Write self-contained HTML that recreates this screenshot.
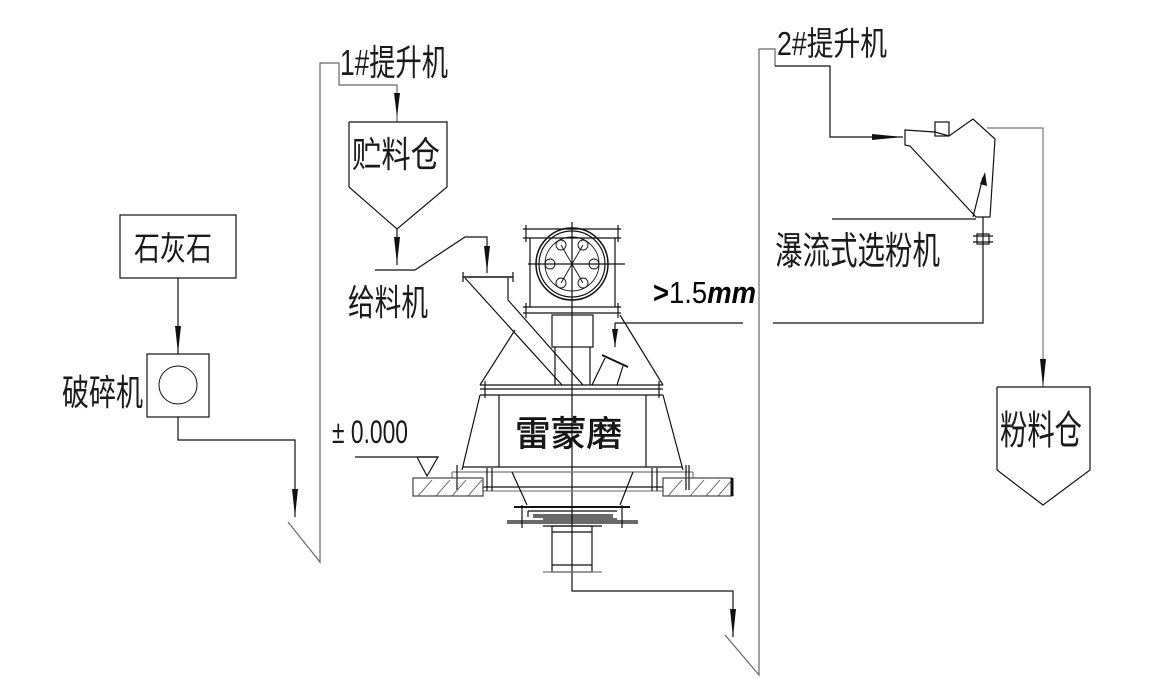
<!DOCTYPE html>
<html><head><meta charset="utf-8"><style>
html,body{margin:0;padding:0;background:#fff;}
svg{display:block;}
.t{font-family:"Liberation Sans","Noto Sans CJK SC",sans-serif;fill:#1a1a1a;}
</style></head><body>
<svg width="1154" height="679" viewBox="0 0 1154 679" xmlns="http://www.w3.org/2000/svg">
<rect width="1154" height="679" fill="#fff"/>
<g fill="none" stroke="#111" stroke-width="1.2">
<!-- limestone box -->
<rect x="120" y="215" width="116" height="63"/>
<line x1="178" y1="278" x2="178" y2="354"/>
<!-- crusher -->
<rect x="147" y="354" width="62" height="63"/>
<circle cx="178" cy="385" r="19" stroke-width="1"/>
<polyline points="178,417 178,440 295,440 295,517"/>
<!-- 1# elevator -->
<polyline stroke="#666" points="288,522 320,562 320,63 339,63 339,85 397,85 397,122"/>
<!-- storage bin -->
<polyline points="349,122 447,122 447,187 397,229 349,187 349,122"/>
<line x1="397" y1="229" x2="397" y2="265"/>
<!-- feeder -->
<polyline points="375,270 415,270 465,237 487,237 487,273"/>
<!-- chute -->
<line x1="463" y1="277" x2="513" y2="277" stroke-width="1.6"/>
<line x1="463" y1="272" x2="463" y2="282"/>
<line x1="513" y1="272" x2="513" y2="282"/>
<line x1="465" y1="278" x2="562" y2="385"/>
<polyline points="508,278 508,300 583,385"/>
<!-- head box -->
<line x1="523" y1="229" x2="621" y2="229"/>
<line x1="523" y1="238" x2="621" y2="238"/>
<line x1="526" y1="225" x2="526" y2="242"/>
<line x1="618" y1="225" x2="618" y2="242"/>
<line x1="530" y1="238" x2="530" y2="307"/>
<line x1="615" y1="238" x2="615" y2="307"/>
<line x1="523" y1="307" x2="621" y2="307"/>
<line x1="523" y1="313" x2="621" y2="313"/>
<line x1="526" y1="303" x2="526" y2="318"/>
<line x1="618" y1="303" x2="618" y2="318"/>
<circle cx="572" cy="264" r="36" stroke-width="1.5"/>
<circle cx="572" cy="264" r="33"/>
<circle cx="572" cy="264" r="27" stroke-width="0.9"/>
<g stroke-width="0.9">
<circle cx="594" cy="264" r="5"/><circle cx="550" cy="264" r="5"/>
<circle cx="583" cy="245" r="5"/><circle cx="561" cy="245" r="5"/>
<circle cx="583" cy="283" r="5"/><circle cx="561" cy="283" r="5"/>
<line x1="561" y1="245" x2="583" y2="283"/>
<line x1="583" y1="245" x2="561" y2="283"/>
</g>
<line x1="528" y1="264" x2="625" y2="264"/>
<!-- center line -->
<polyline points="572,222 572,591 733,591 733,637"/>
<!-- shaft -->
<rect x="552" y="315" width="41" height="32"/>
<line x1="555" y1="347" x2="555" y2="385"/>
<line x1="590" y1="347" x2="590" y2="385"/>
<!-- upper cone -->
<line x1="515" y1="330" x2="480" y2="385"/>
<line x1="620" y1="315" x2="663" y2="385"/>
<!-- small pipe right -->
<line x1="602" y1="355" x2="628" y2="367" stroke-width="1.8"/>
<line x1="605" y1="358" x2="592" y2="385"/>
<line x1="623" y1="366" x2="617" y2="385"/>
<!-- flange -->
<line x1="480" y1="385" x2="663" y2="385"/>
<line x1="480" y1="389" x2="663" y2="389"/>
<line x1="480" y1="395" x2="663" y2="395"/>
<line x1="485" y1="381" x2="485" y2="398"/>
<line x1="659" y1="381" x2="659" y2="398"/>
<!-- body -->
<line x1="480" y1="395" x2="462" y2="470"/>
<line x1="663" y1="395" x2="683" y2="470"/>
<line x1="499" y1="395" x2="499" y2="467"/>
<line x1="646" y1="395" x2="646" y2="467"/>
<line x1="463" y1="467" x2="682" y2="467"/>
<line x1="452" y1="472" x2="693" y2="472" stroke="#777"/>
<line x1="452" y1="472" x2="452" y2="478" stroke="#777"/>
<line x1="693" y1="472" x2="693" y2="478" stroke="#777"/>
<line x1="483" y1="487" x2="663" y2="487"/>
<line x1="483" y1="491" x2="663" y2="491" stroke="#888"/>
<line x1="487" y1="468" x2="487" y2="491"/>
<line x1="492" y1="468" x2="492" y2="491"/>
<line x1="652" y1="468" x2="652" y2="491"/>
<line x1="657" y1="468" x2="657" y2="491"/>
<line x1="457" y1="465" x2="457" y2="490"/>
<line x1="686" y1="465" x2="686" y2="490"/>
<line x1="689" y1="465" x2="689" y2="490"/>
<!-- foundation blocks -->
<rect x="413" y="478" width="70" height="18" stroke="#444"/>
<rect x="663" y="478" width="69" height="18" stroke="#444"/>
<line x1="732" y1="478" x2="732" y2="496" stroke-width="3"/>
<g stroke="#555" stroke-width="0.9">
<line x1="418" y1="496" x2="432" y2="480"/><line x1="436" y1="496" x2="450" y2="480"/>
<line x1="452" y1="496" x2="466" y2="480"/><line x1="468" y1="496" x2="482" y2="480"/>
<line x1="668" y1="496" x2="682" y2="480"/><line x1="690" y1="496" x2="704" y2="480"/>
<line x1="706" y1="496" x2="720" y2="480"/><line x1="718" y1="496" x2="731" y2="481"/>
</g>
<!-- lower cone and plates -->
<line x1="512" y1="472" x2="527" y2="505"/>
<line x1="633" y1="472" x2="620" y2="505"/>
<line x1="514" y1="507" x2="630" y2="507" stroke-width="2"/>
<line x1="528" y1="511" x2="617" y2="511"/>
<line x1="533" y1="515" x2="613" y2="515"/>
<line x1="533" y1="517" x2="613" y2="517"/>
<line x1="528" y1="511" x2="528" y2="517"/>
<line x1="543" y1="519" x2="617" y2="519"/>
<line x1="507" y1="521" x2="638" y2="521"/>
<line x1="507" y1="523" x2="638" y2="523"/>
<line x1="543" y1="526" x2="602" y2="526"/>
<line x1="522" y1="505" x2="522" y2="528"/>
<line x1="622" y1="505" x2="622" y2="528"/>
<rect x="552" y="526" width="40" height="46"/>
<line x1="552" y1="532" x2="592" y2="532"/>
<line x1="552" y1="565" x2="592" y2="565"/>
<line x1="543" y1="572" x2="602" y2="572" stroke="#777"/>
<!-- elevation marker -->
<line x1="355" y1="457" x2="438" y2="457"/>
<polyline points="417,457 438,457 427,476 417,457"/>
<!-- >1.5mm line -->
<line x1="615" y1="323" x2="743" y2="323"/>
<line x1="615" y1="323" x2="615" y2="347"/>
<!-- 2# elevator -->
<polyline stroke="#666" points="725,635 759,675 759,49 775,49 775,66"/>
<polyline points="775,66 830,66 830,137 903,137"/>
<!-- classifier -->
<polygon points="905,130 935,132 949,136 973,119 995,139 990,217 976,217 910,146 905,145"/>
<rect x="935" y="122" width="14" height="14"/>
<line x1="973" y1="217" x2="983" y2="177"/>
<line x1="832" y1="219" x2="976" y2="219"/>
<polyline points="983,217 983,323 773,323"/>
<rect x="977" y="234" width="12" height="10"/>
<line x1="973" y1="236" x2="993" y2="236"/>
<line x1="973" y1="242" x2="993" y2="242"/>
<polyline stroke="#777" points="987,128 1043,128 1043,387"/>
<!-- powder bin -->
<polyline points="997,387 1090,387 1090,470 1043,505 997,470 997,387"/>
</g>
<!-- arrowheads -->
<g fill="#111" stroke="none">
<polygon points="175,326 181,326 178,353"/>
<polygon points="292,489 298,489 295,517"/>
<polygon points="394,93 400,93 397,117"/>
<polygon points="394,237 400,237 397,264"/>
<polygon points="484,246 490,246 487,272"/>
<polygon points="612,329 618,329 615,347"/>
<polygon points="730,609 736,609 733,637"/>
<polygon points="872,134 872,140 903,137"/>
<polygon points="1040,359 1046,359 1043,387"/>
<polygon points="980,184 987,186 985,172"/>
</g>
<!-- labels -->
<text class="t" x="340" y="75" font-size="36" textLength="108" lengthAdjust="spacingAndGlyphs">1#提升机</text>
<text class="t" x="352" y="167" font-size="36" textLength="88" lengthAdjust="spacingAndGlyphs">贮料仓</text>
<text class="t" x="348" y="315" font-size="36" textLength="80" lengthAdjust="spacingAndGlyphs">给料机</text>
<text class="t" x="134" y="260" font-size="33" textLength="78" lengthAdjust="spacingAndGlyphs">石灰石</text>
<text class="t" x="62" y="405" font-size="36" textLength="81" lengthAdjust="spacingAndGlyphs">破碎机</text>
<text class="t" x="777" y="55" font-size="33" textLength="110" lengthAdjust="spacingAndGlyphs">2#提升机</text>
<text class="t" x="775" y="264" font-size="38" textLength="165" lengthAdjust="spacingAndGlyphs">瀑流式选粉机</text>
<text class="t" x="1000" y="444" font-size="40" textLength="82" lengthAdjust="spacingAndGlyphs">粉料仓</text>
<text class="t" x="515" y="446" font-size="35" fill="#000" stroke="#000" stroke-width="0.6" textLength="107" lengthAdjust="spacingAndGlyphs">雷蒙磨</text>
<text class="t" x="332" y="443" font-size="32" textLength="76" lengthAdjust="spacingAndGlyphs">± 0.000</text>
<text x="653" y="303" font-family="Liberation Sans, sans-serif" font-size="31" fill="#000" textLength="103" lengthAdjust="spacingAndGlyphs"><tspan font-weight="bold">&gt;</tspan>1.5<tspan font-weight="bold" font-style="italic">mm</tspan></text>
</svg>
</body></html>
